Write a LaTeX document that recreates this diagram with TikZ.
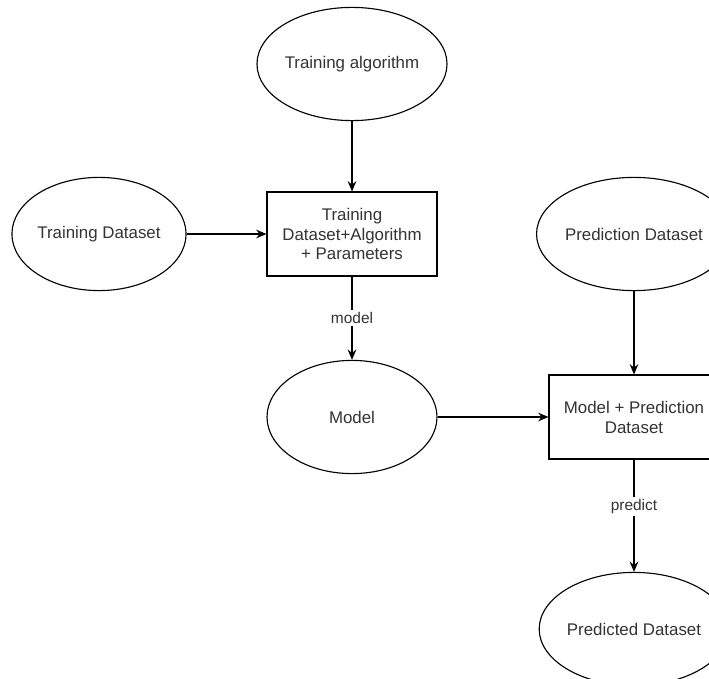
\documentclass[tikz,border=0pt]{standalone}
\usepackage{fontspec}
\setmainfont{Liberation Sans}
\usetikzlibrary{arrows.meta, positioning, shapes.geometric}
\definecolor{TextGray}{RGB}{51, 51, 51}

\begin{document}
\begin{tikzpicture}[
        ell/.style={ellipse, draw, line width=0.8pt, minimum width=4.25cm, minimum height=2.83cm, inner sep=0pt, text=TextGray, font=\fontsize{12}{14.2}\selectfont},
        box/.style={rectangle, draw, line width=0.8pt, minimum width=4.25cm, minimum height=2.1cm, align=center, text=TextGray, font=\fontsize{12}{14.2}\selectfont},
        arrow/.style={-{Stealth[length=2.6mm, width=2.2mm, inset=0.9mm]}, line width=0.8pt},
        lbl/.style={fill=white, inner sep=1.5pt, text=TextGray, font=\fontsize{11}{13}\selectfont}
    ]
        \clip (0, 0) rectangle (17.725, -16.975);

        % Training
        \node[ell] (alg) at (8.8, -1.6) {Training algorithm};
        \node[ell] (trainds) at (2.475, -5.85) {Training Dataset};
        \node[box] (trainbox) at (8.8, -5.85) {Training\\Dataset+Algorithm\\+ Parameters};
        \node[ell] (model) at (8.8, -10.425) {Model};
        \draw[arrow] (alg) -- (trainbox);
        \draw[arrow] (trainds) -- (trainbox);
        \draw[arrow] (trainbox) -- node[lbl] {model} (model);

        % Prediction
        \node[ell] (predds) at (15.85, -5.85) {Prediction Dataset};
        \node[box] (predbox) at (15.85, -10.425) {Model + Prediction\\Dataset};
        \node[ell] (predicted) at (15.85, -15.725) {Predicted Dataset};
        \draw[arrow] (predds) -- (predbox);
        \draw[arrow] (model) -- (predbox);
        \draw[arrow] (predbox) -- node[lbl, pos=0.42] {predict} (predicted);
    \end{tikzpicture}
\end{document}
